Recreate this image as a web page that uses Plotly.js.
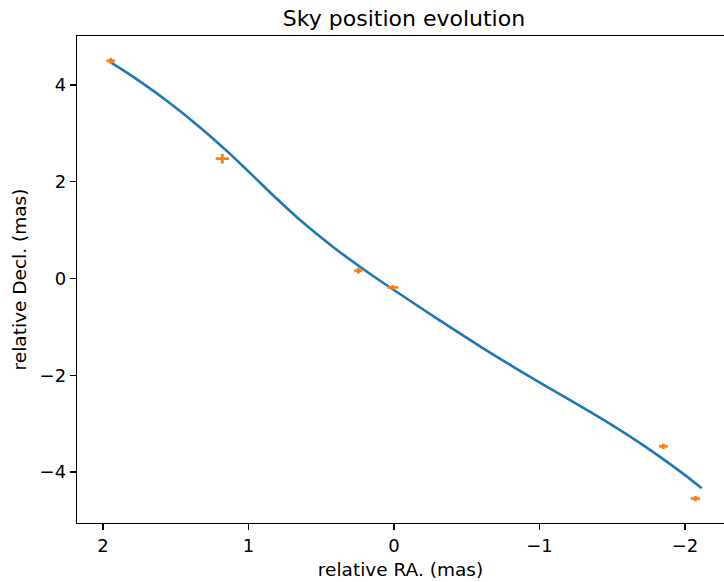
<!DOCTYPE html>
<html>
<head>
<meta charset="utf-8">
<script src="https://cdn.plot.ly/plotly-3.0.1.min.js"></script>
<style>html,body{margin:0;padding:0;background:#fff;}#chart{width:724px;height:582px;}</style>
</head>
<body>
<div id="chart"></div>
<script>
// Model curve (relative RA, relative Decl.) in mas
const curveRA  = [1.952, 1.792, 1.562, 1.333, 1.150, 0.990, 0.806, 0.646, 0.417, 0.188, 0.027, -0.133, -0.362, -0.591, -0.820, -1.049, -1.278, -1.507, -1.737, -1.966, -2.115];
const curveDec = [4.48, 4.168, 3.674, 3.124, 2.639, 2.183, 1.649, 1.209, 0.648, 0.144, -0.186, -0.506, -0.959, -1.401, -1.825, -2.233, -2.634, -3.046, -3.495, -3.987, -4.337];

// Observations with errors
const obsRA     = [1.947, 1.180, 0.245, 0.009, -1.851, -2.071];
const obsDec    = [4.50, 2.477, 0.161, -0.182, -3.469, -4.55];
const obsRAerr  = [0.030, 0.046, 0.028, 0.037, 0.030, 0.032];
const obsDecerr = [0.06, 0.10, 0.06, 0.05, 0.055, 0.055];

const font = {family: 'DejaVu Sans, sans-serif', color: '#000'};

const traces = [
  {
    x: curveRA, y: curveDec, type: 'scatter', mode: 'lines',
    line: {color: '#1f77b4', width: 2.6, shape: 'spline', smoothing: 1},
    hoverinfo: 'skip', showlegend: false
  },
  {
    x: obsRA, y: obsDec, type: 'scatter', mode: 'markers',
    marker: {color: '#ff7f0e', size: 1, opacity: 0},
    error_x: {type: 'data', array: obsRAerr, visible: true, color: '#ff7f0e', thickness: 2.8, width: 0},
    error_y: {type: 'data', array: obsDecerr, visible: true, color: '#ff7f0e', thickness: 2.8, width: 0},
    showlegend: false
  }
];

const layout = {
  width: 724, height: 582,
  margin: {l: 77, r: 0, t: 36, b: 59},
  paper_bgcolor: '#fff', plot_bgcolor: '#fff',
  title: {text: 'Sky position evolution', font: Object.assign({size: 22}, font),
          x: 404/724, xanchor: 'center', y: 1 - 18/582, yanchor: 'middle', yref: 'container'},
  xaxis: {
    range: [2.179, -2.268], tickvals: [2, 1, 0, -1, -2],
    showgrid: false, zeroline: false, showline: true, mirror: true,
    linecolor: '#000', linewidth: 1.3,
    ticks: 'outside', ticklen: 6, tickwidth: 1.3, tickcolor: '#000',
    tickfont: Object.assign({size: 18}, font),
    title: {text: 'relative RA. (mas)', font: Object.assign({size: 18.5}, font), standoff: 8}
  },
  yaxis: {
    range: [-5.054, 5.013], tickvals: [4, 2, 0, -2, -4],
    showgrid: false, zeroline: false, showline: true, mirror: false,
    linecolor: '#000', linewidth: 1.3,
    ticks: 'outside', ticklen: 6, tickwidth: 1.3, tickcolor: '#000',
    tickfont: Object.assign({size: 18}, font),
    title: {text: 'relative Decl. (mas)', font: Object.assign({size: 18.5}, font), standoff: 8}
  }
};

Plotly.newPlot('chart', traces, layout, {displayModeBar: false, staticPlot: true});
</script>
</body>
</html>
